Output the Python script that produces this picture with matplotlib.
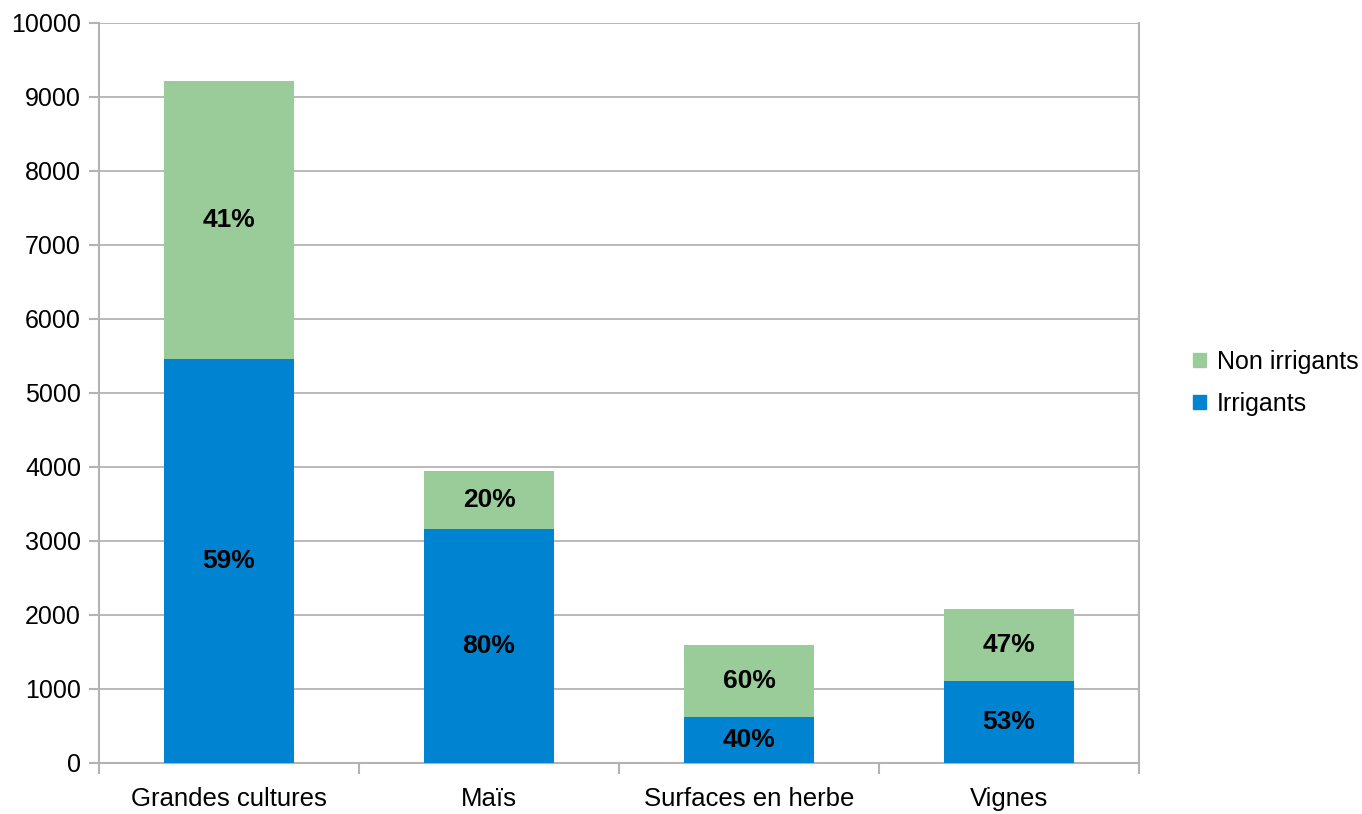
import matplotlib.pyplot as plt
from matplotlib.patches import Patch

plt.rcParams['font.family'] = ['Liberation Sans', 'DejaVu Sans']

categories = ["Grandes cultures", "Maïs", "Surfaces en herbe", "Vignes"]
irrigants = [5460, 3160, 620, 1110]
non_irrigants = [3760, 785, 975, 975]
irrigants_pct = ["59%", "80%", "40%", "53%"]
non_irrigants_pct = ["41%", "20%", "60%", "47%"]

blue = "#0084d1"
green = "#99cc99"
grid_col = "#b3b3b3"

fig = plt.figure(figsize=(13.62, 8.14), dpi=100)
ax = fig.add_axes([99 / 1362, 51 / 814, 1040 / 1362, 740 / 814])

x = list(range(len(categories)))
b1 = ax.bar(x, irrigants, width=0.5, color=blue, zorder=3)
b2 = ax.bar(x, non_irrigants, width=0.5, bottom=irrigants, color=green, zorder=3)

ax.bar_label(b1, labels=irrigants_pct, label_type='center', fontsize=19, fontweight='bold')
ax.bar_label(b2, labels=non_irrigants_pct, label_type='center', fontsize=19, fontweight='bold')

ax.set_xlim(-0.5, len(categories) - 0.5)
ax.set_ylim(0, 10000)
ax.set_yticks(range(0, 10001, 1000))
ax.set_xticks(x)
ax.set_xticklabels(categories)
ax.set_xticks([i - 0.5 for i in range(len(categories) + 1)], minor=True)
ax.tick_params(axis='x', which='major', length=0, pad=17, labelsize=18.5)
ax.tick_params(axis='x', which='minor', length=8, color=grid_col, width=1.5)
ax.tick_params(axis='y', length=7, color=grid_col, width=1.5, labelsize=18, pad=6)

ax.grid(axis='y', color=grid_col, linewidth=1.3, zorder=0)
for s in ['left', 'bottom', 'right']:
    ax.spines[s].set_color(grid_col)
    ax.spines[s].set_linewidth(1.5)
ax.spines['top'].set_visible(False)

handles = [Patch(color=green, label="Non irrigants"), Patch(color=blue, label="Irrigants")]
fig.legend(handles=handles, loc='center left', bbox_to_anchor=(1193 / 1362, 1 - 383 / 814),
           frameon=False, fontsize=18, handlelength=0.52, handleheight=0.52,
           handletextpad=0.44, labelspacing=0.72, borderpad=0, borderaxespad=0)

fig.savefig("out.png", dpi=100)
